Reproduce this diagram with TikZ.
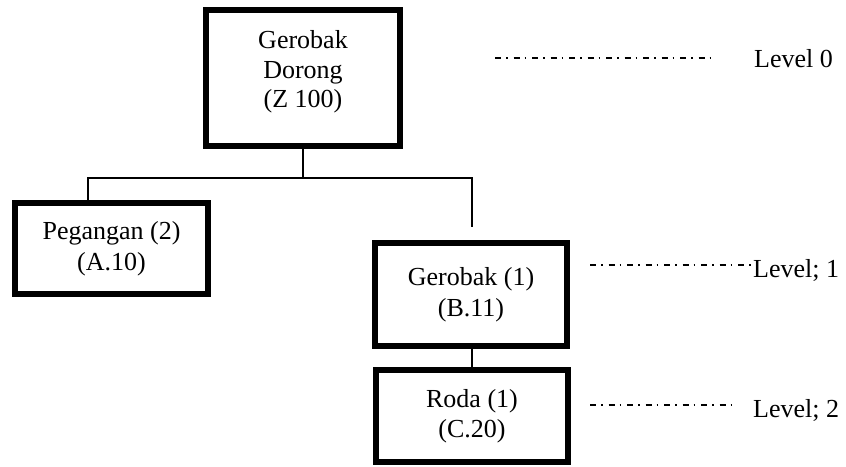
\documentclass[tikz,border=0pt]{standalone}
\usepackage{fontspec}
\setmainfont{Liberation Serif}
\begin{document}
\begin{tikzpicture}[x=1pt,y=-1pt,
  partbox/.style={draw=black, line width=6pt, fill=white, align=center,
    inner sep=0pt, font=\fontsize{26}{30.5}\selectfont},
  conn/.style={draw=black, line width=1.6pt},
  levelline/.style={draw=black, line width=1.3pt, dash pattern=on 6pt off 5pt on 1.5pt off 6pt},
  levellabel/.style={anchor=base west, inner sep=0pt, font=\fontsize{26}{30.5}\selectfont}]
  \useasboundingbox (0,0) rectangle (846,466);

  % product structure boxes
  \node[partbox, minimum width=194pt, minimum height=136pt] (top) at (303,78) {};
  \node[align=center, inner sep=0pt, font=\fontsize{26}{29.5}\selectfont] (toptext) at (303,72) {Gerobak\\Dorong\\(Z 100)};
  \node[partbox, minimum width=193pt, minimum height=91pt] (peg) at (111.5,248.5) {Pegangan (2)\\(A.10)};
  \node[partbox, minimum width=192pt, minimum height=103pt] (ger) at (471,294.5) {Gerobak (1)\\(B.11)};
  \node[partbox, minimum width=192pt, minimum height=92pt] (roda) at (472,416) {Roda (1)\\(C.20)};

  % tree connectors
  \coordinate (busL) at (88,178);
  \coordinate (busR) at (472,178);
  \coordinate (gapEnd) at (472,227);
  \draw[conn] (top.south) -- (top.south |- busL);
  \draw[conn] (peg.north -| busL) -- (busL) -- (busR) -- (gapEnd);
  \draw[conn] (ger.south -| roda.north) -- (roda.north);

  % level markers
  \coordinate (l0a) at (495,58);
  \coordinate (l0b) at (712,58);
  \coordinate (l1a) at (590,265);
  \coordinate (l1b) at (753,265);
  \coordinate (l2a) at (590,405);
  \coordinate (l2b) at (732,405);
  \draw[levelline] (l0a) -- (l0b);
  \draw[levelline] (l1a) -- (l1b);
  \draw[levelline] (l2a) -- (l2b);
  \node[levellabel] (lev0) at (754,67) {Level 0};
  \node[levellabel] (lev1) at (753,277) {Level; 1};
  \node[levellabel] (lev2) at (753,417) {Level; 2};
\end{tikzpicture}
\end{document}
